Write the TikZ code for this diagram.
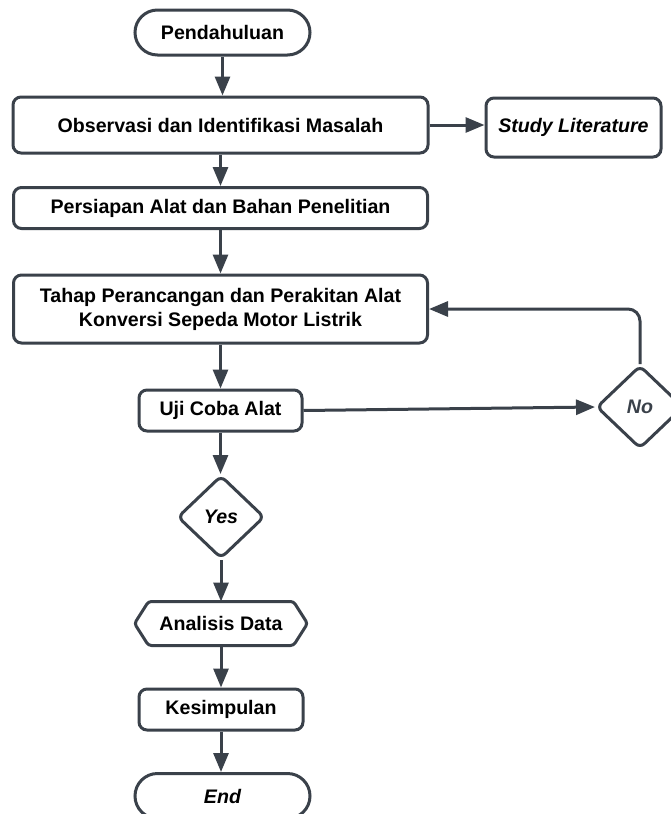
\documentclass[tikz,border=0pt]{standalone}
\usepackage{fontspec}
\setmainfont{Liberation Sans}
\usetikzlibrary{arrows.meta,shapes.geometric,shapes.misc}
\definecolor{ln}{HTML}{3A414A}
\tikzset{
  base/.style={draw=ln, line width=3pt, fill=white, align=center, inner sep=2pt,
    font=\fontsize{19.6}{24}\selectfont\bfseries, text=black},
  box/.style={base, rectangle, rounded corners=8pt},
  term/.style={base, rounded rectangle},
  dec/.style={base, diamond, rounded corners=6pt, minimum width=87pt, minimum height=83pt, inner sep=0pt},
  hexa/.style={base, draw=none, fill=none, rectangle, minimum width=170pt, minimum height=41pt},
  conn/.style={draw=ln, line width=3pt, -{Triangle[length=19pt,width=15pt]}},
  plain/.style={draw=ln, line width=3pt}
}
\begin{document}
\begin{tikzpicture}[x=1pt,y=-1pt]
\useasboundingbox (0,0) rectangle (671,814);
\clip (0,0) rectangle (671,814);
\fill[white] (0,0) rectangle (671,814);

\node[term, minimum width=179pt, minimum height=45pt] (pend) at (222.5,32.5) {Pendahuluan};
\node[box, minimum width=415pt, minimum height=56pt] (obs) at (220.5,125) {Observasi dan Identifikasi Masalah};
\node[box, minimum width=175pt, minimum height=59pt] (study) at (573.5,127.5) {\itshape Study Literature};
\node[box, minimum width=414pt, minimum height=41pt] (pers) at (220.5,208) {Persiapan Alat dan Bahan Penelitian};
\node[box, minimum width=414pt, minimum height=68pt] (tahap) at (220.5,309) {Tahap Perancangan dan Perakitan Alat\\Konversi Sepeda Motor Listrik};
\node[box, minimum width=163pt, minimum height=41pt] (uji) at (220.5,410.5) {Uji Coba Alat};
\node[dec, text=ln] (no) at (640,407) {\itshape No};
\node[dec] (yes) at (221,517) {\itshape Yes};
\node[hexa] (ana) at (221,623.5) {Analisis Data};
\draw[draw=ln, line width=3pt, fill=white, rounded corners=3pt]
  ([xshift=14pt]ana.north west) -- ([xshift=-14pt]ana.north east) -- (ana.east)
  -- ([xshift=-14pt]ana.south east) -- ([xshift=14pt]ana.south west) -- (ana.west) -- cycle;
\node[hexa] at (ana.center) {Analisis Data};
\node[box, minimum width=164pt, minimum height=41pt] (kes) at (221,709.5) {Kesimpulan};
\node[term, minimum width=179pt, minimum height=45pt] (end) at (222.5,796) {\itshape End};

\draw[conn] (pend.south) -- (obs.north -| pend.south);
\draw[conn] (obs.east) -- (obs.east -| study.west);
\draw[conn] (obs.south) -- (pers.north);
\draw[conn] (pers.south) -- (tahap.north);
\draw[conn] (tahap.south) -- (uji.north);
\draw[conn] (uji.east) -- (no.west);
\draw[conn, rounded corners=12pt] (no.north) |- (tahap.east);
\draw[conn] (uji.south) -- (yes.north -| uji.south);
\draw[conn] (yes.south) -- (ana.north);
\draw[conn] (ana.south) -- (kes.north);
\draw[conn] (kes.south) -- (end.north -| kes.south);
\end{tikzpicture}
\end{document}
